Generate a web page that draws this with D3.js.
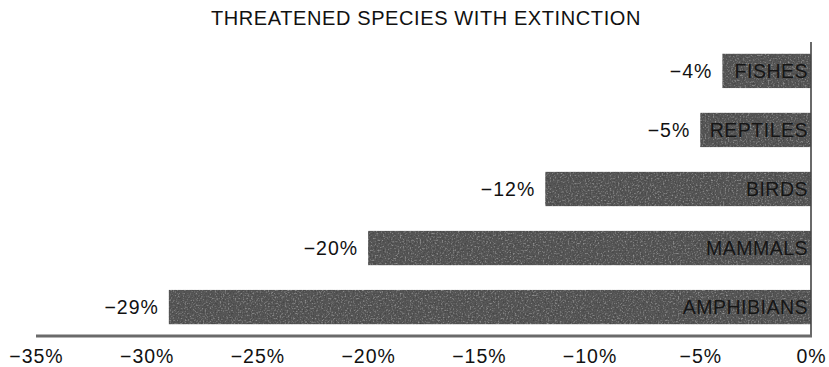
<!DOCTYPE html>
<html>
<head>
<meta charset="utf-8">
<script src="https://cdn.jsdelivr.net/npm/d3@7"></script>
<style>
  html, body { margin: 0; padding: 0; background: #fff; }
  svg { display: block; font-family: "Liberation Sans", Arial, Helvetica, sans-serif; }
</style>
</head>
<body>
<svg id="chart" width="829" height="367"></svg>
<script>
// Share of species threatened with extinction, by group
const categories = ["FISHES", "REPTILES", "BIRDS", "MAMMALS", "AMPHIBIANS"];
const values = [-4, -5, -12, -20, -29];
const tickValues = [-35, -30, -25, -20, -15, -10, -5, 0];
const title = "THREATENED SPECIES WITH EXTINCTION";

const fmt = d => (d < 0 ? "\u2212" : "") + Math.abs(d) + "%";

const svg = d3.select("#chart");

const x = d3.scaleLinear().domain([-35, 0]).range([36, 811]);
const y = d3.scaleBand().domain(categories).range([42, 336])
  .paddingInner(0.42).paddingOuter(0.2);

// soft grain for the bar fill
const defs = svg.append("defs");
const f = defs.append("filter").attr("id", "grain")
  .attr("x", 0).attr("y", 0).attr("width", "100%").attr("height", "100%");
f.append("feTurbulence").attr("type", "fractalNoise").attr("baseFrequency", 0.6)
  .attr("numOctaves", 2).attr("seed", 4).attr("result", "n");
f.append("feColorMatrix").attr("in", "n").attr("type", "matrix")
  .attr("values", "0 0 0 0 0  0 0 0 0 0  0 0 0 0 0  1.0 0 0 0 -0.42").attr("result", "dark");
f.append("feColorMatrix").attr("in", "n").attr("type", "matrix")
  .attr("values", "0 0 0 0 1  0 0 0 0 1  0 0 0 0 1  -0.7 0 0 0 0.3").attr("result", "light");
f.append("feComposite").attr("in", "dark").attr("in2", "SourceGraphic")
  .attr("operator", "in").attr("result", "d2");
f.append("feComposite").attr("in", "light").attr("in2", "SourceGraphic")
  .attr("operator", "in").attr("result", "l2");
const m = f.append("feMerge");
m.append("feMergeNode").attr("in", "SourceGraphic");
m.append("feMergeNode").attr("in", "d2");
m.append("feMergeNode").attr("in", "l2");

// title
svg.append("text")
  .attr("x", 426).attr("y", 25)
  .attr("text-anchor", "middle")
  .attr("font-size", 20)
  .attr("letter-spacing", "0.6px")
  .attr("fill", "#111")
  .text(title);

const rows = categories.map((c, i) => ({ cat: c, val: values[i] }));

// bars
svg.append("g").selectAll("rect").data(rows).join("rect")
  .attr("x", d => x(d.val))
  .attr("y", d => y(d.cat))
  .attr("width", d => x(0) - x(d.val))
  .attr("height", y.bandwidth())
  .attr("fill", "#5a5a5a")
  .attr("filter", "url(#grain)");

// category names inside the bars
svg.append("g").selectAll("text").data(rows).join("text")
  .attr("x", x(0) - 3)
  .attr("y", d => y(d.cat) + y.bandwidth() / 2)
  .attr("dy", "0.37em")
  .attr("text-anchor", "end")
  .attr("font-size", 19.5)
  .attr("letter-spacing", "0.5px")
  .attr("fill", "#161616")
  .text(d => d.cat);

// value labels left of the bars
svg.append("g").selectAll("text").data(rows).join("text")
  .attr("x", d => x(d.val) - 10)
  .attr("y", d => y(d.cat) + y.bandwidth() / 2)
  .attr("dy", "0.37em")
  .attr("text-anchor", "end")
  .attr("font-size", 19.5)
  .attr("letter-spacing", "1px")
  .attr("fill", "#111")
  .text(d => fmt(d.val));

// zero line
svg.append("line")
  .attr("x1", x(0)).attr("x2", x(0))
  .attr("y1", 42).attr("y2", 336)
  .attr("stroke", "#444").attr("stroke-width", 1.6);

// x axis
const axis = svg.append("g").attr("transform", "translate(0,336)")
  .call(d3.axisBottom(x).tickValues(tickValues).tickFormat(fmt).tickSize(0));
axis.select(".domain").remove();
axis.selectAll("text")
  .attr("y", 27).attr("dy", 0)
  .attr("font-size", 19.5)
  .attr("letter-spacing", "1px")
  .attr("font-family", "Liberation Sans, Arial, sans-serif")
  .attr("fill", "#111");

svg.append("line")
  .attr("x1", x(-35)).attr("x2", x(0) + 1)
  .attr("y1", 336).attr("y2", 336)
  .attr("stroke", "#6a6a6a").attr("stroke-width", 3);
</script>
</body>
</html>
